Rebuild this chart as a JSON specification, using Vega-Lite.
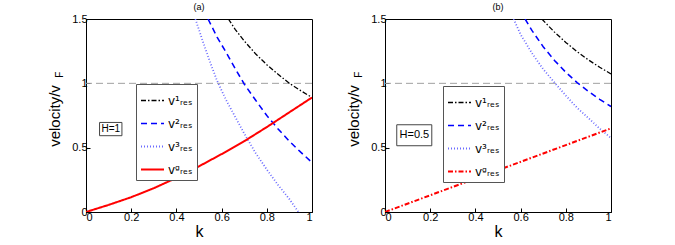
{
  "$schema": "https://vega.github.io/schema/vega-lite/v6.json",
  "background": "white",
  "padding": {"left": 46, "top": 2, "right": 5, "bottom": 2},
  "datasets": {
    "curves": [
      {"panel": "a", "s": "v¹ᵣₑₛ", "k": 0.63, "v": 1.5},
      {"panel": "a", "s": "v¹ᵣₑₛ", "k": 0.66, "v": 1.42},
      {"panel": "a", "s": "v¹ᵣₑₛ", "k": 0.7, "v": 1.33},
      {"panel": "a", "s": "v¹ᵣₑₛ", "k": 0.75, "v": 1.23},
      {"panel": "a", "s": "v¹ᵣₑₛ", "k": 0.8, "v": 1.145},
      {"panel": "a", "s": "v¹ᵣₑₛ", "k": 0.85, "v": 1.07},
      {"panel": "a", "s": "v¹ᵣₑₛ", "k": 0.9, "v": 1.0},
      {"panel": "a", "s": "v¹ᵣₑₛ", "k": 0.95, "v": 0.943},
      {"panel": "a", "s": "v¹ᵣₑₛ", "k": 1.0, "v": 0.89},
      {"panel": "a", "s": "v²ᵣₑₛ", "k": 0.54, "v": 1.5},
      {"panel": "a", "s": "v²ᵣₑₛ", "k": 0.58, "v": 1.36},
      {"panel": "a", "s": "v²ᵣₑₛ", "k": 0.62, "v": 1.24},
      {"panel": "a", "s": "v²ᵣₑₛ", "k": 0.66, "v": 1.115},
      {"panel": "a", "s": "v²ᵣₑₛ", "k": 0.7, "v": 0.995},
      {"panel": "a", "s": "v²ᵣₑₛ", "k": 0.75, "v": 0.87},
      {"panel": "a", "s": "v²ᵣₑₛ", "k": 0.8, "v": 0.75},
      {"panel": "a", "s": "v²ᵣₑₛ", "k": 0.85, "v": 0.645},
      {"panel": "a", "s": "v²ᵣₑₛ", "k": 0.9, "v": 0.55},
      {"panel": "a", "s": "v²ᵣₑₛ", "k": 0.95, "v": 0.465},
      {"panel": "a", "s": "v²ᵣₑₛ", "k": 1.0, "v": 0.385},
      {"panel": "a", "s": "v³ᵣₑₛ", "k": 0.484, "v": 1.5},
      {"panel": "a", "s": "v³ᵣₑₛ", "k": 0.52, "v": 1.31},
      {"panel": "a", "s": "v³ᵣₑₛ", "k": 0.55, "v": 1.16},
      {"panel": "a", "s": "v³ᵣₑₛ", "k": 0.58, "v": 1.02},
      {"panel": "a", "s": "v³ᵣₑₛ", "k": 0.62, "v": 0.87},
      {"panel": "a", "s": "v³ᵣₑₛ", "k": 0.66, "v": 0.74},
      {"panel": "a", "s": "v³ᵣₑₛ", "k": 0.7, "v": 0.61},
      {"panel": "a", "s": "v³ᵣₑₛ", "k": 0.75, "v": 0.46},
      {"panel": "a", "s": "v³ᵣₑₛ", "k": 0.8, "v": 0.33},
      {"panel": "a", "s": "v³ᵣₑₛ", "k": 0.85, "v": 0.21},
      {"panel": "a", "s": "v³ᵣₑₛ", "k": 0.9, "v": 0.1},
      {"panel": "a", "s": "v³ᵣₑₛ", "k": 0.94, "v": 0.0},
      {"panel": "a", "s": "vᵍᵣₑₛ", "k": 0.0, "v": 0.0},
      {"panel": "a", "s": "vᵍᵣₑₛ", "k": 0.1, "v": 0.055},
      {"panel": "a", "s": "vᵍᵣₑₛ", "k": 0.2, "v": 0.115},
      {"panel": "a", "s": "vᵍᵣₑₛ", "k": 0.3, "v": 0.185},
      {"panel": "a", "s": "vᵍᵣₑₛ", "k": 0.4, "v": 0.265},
      {"panel": "a", "s": "vᵍᵣₑₛ", "k": 0.5, "v": 0.355},
      {"panel": "a", "s": "vᵍᵣₑₛ", "k": 0.6, "v": 0.45},
      {"panel": "a", "s": "vᵍᵣₑₛ", "k": 0.7, "v": 0.55},
      {"panel": "a", "s": "vᵍᵣₑₛ", "k": 0.8, "v": 0.66},
      {"panel": "a", "s": "vᵍᵣₑₛ", "k": 0.9, "v": 0.775},
      {"panel": "a", "s": "vᵍᵣₑₛ", "k": 1.0, "v": 0.89},
      {"panel": "b", "s": "v¹ᵣₑₛ", "k": 0.694, "v": 1.5},
      {"panel": "b", "s": "v¹ᵣₑₛ", "k": 0.72, "v": 1.452},
      {"panel": "b", "s": "v¹ᵣₑₛ", "k": 0.75, "v": 1.398},
      {"panel": "b", "s": "v¹ᵣₑₛ", "k": 0.8, "v": 1.318},
      {"panel": "b", "s": "v¹ᵣₑₛ", "k": 0.85, "v": 1.246},
      {"panel": "b", "s": "v¹ᵣₑₛ", "k": 0.9, "v": 1.182},
      {"panel": "b", "s": "v¹ᵣₑₛ", "k": 0.95, "v": 1.125},
      {"panel": "b", "s": "v¹ᵣₑₛ", "k": 1.0, "v": 1.073},
      {"panel": "b", "s": "v²ᵣₑₛ", "k": 0.62, "v": 1.5},
      {"panel": "b", "s": "v²ᵣₑₛ", "k": 0.65, "v": 1.411},
      {"panel": "b", "s": "v²ᵣₑₛ", "k": 0.7, "v": 1.285},
      {"panel": "b", "s": "v²ᵣₑₛ", "k": 0.75, "v": 1.178},
      {"panel": "b", "s": "v²ᵣₑₛ", "k": 0.8, "v": 1.086},
      {"panel": "b", "s": "v²ᵣₑₛ", "k": 0.85, "v": 1.006},
      {"panel": "b", "s": "v²ᵣₑₛ", "k": 0.9, "v": 0.937},
      {"panel": "b", "s": "v²ᵣₑₛ", "k": 0.95, "v": 0.875},
      {"panel": "b", "s": "v²ᵣₑₛ", "k": 1.0, "v": 0.82},
      {"panel": "b", "s": "v³ᵣₑₛ", "k": 0.569, "v": 1.5},
      {"panel": "b", "s": "v³ᵣₑₛ", "k": 0.6, "v": 1.38},
      {"panel": "b", "s": "v³ᵣₑₛ", "k": 0.65, "v": 1.235},
      {"panel": "b", "s": "v³ᵣₑₛ", "k": 0.7, "v": 1.11},
      {"panel": "b", "s": "v³ᵣₑₛ", "k": 0.753, "v": 1.0},
      {"panel": "b", "s": "v³ᵣₑₛ", "k": 0.8, "v": 0.905},
      {"panel": "b", "s": "v³ᵣₑₛ", "k": 0.85, "v": 0.81},
      {"panel": "b", "s": "v³ᵣₑₛ", "k": 0.9, "v": 0.73},
      {"panel": "b", "s": "v³ᵣₑₛ", "k": 0.95, "v": 0.648},
      {"panel": "b", "s": "v³ᵣₑₛ", "k": 1.0, "v": 0.575},
      {"panel": "b", "s": "vᵍᵣₑₛ", "k": 0.0, "v": 0.0},
      {"panel": "b", "s": "vᵍᵣₑₛ", "k": 0.2, "v": 0.13},
      {"panel": "b", "s": "vᵍᵣₑₛ", "k": 0.4, "v": 0.26},
      {"panel": "b", "s": "vᵍᵣₑₛ", "k": 0.6, "v": 0.39},
      {"panel": "b", "s": "vᵍᵣₑₛ", "k": 0.8, "v": 0.52},
      {"panel": "b", "s": "vᵍᵣₑₛ", "k": 1.0, "v": 0.65}
    ]
  },
  "hconcat": [
    {
      "width": 226,
      "height": 193,
      "title": {"text": "(a)", "fontSize": 9, "fontWeight": "normal", "offset": 1},
      "layer": [
        {
          "data": {"values": [{}]},
          "mark": {"type": "rule", "color": "#a0a0a0", "strokeDash": [7, 4], "strokeWidth": 1},
          "encoding": {"y": {"datum": 1}}
        },
        {
          "data": {"name": "curves"},
          "transform": [{"filter": "datum.panel === 'a'"}],
          "mark": {"type": "line", "clip": true},
          "encoding": {
            "x": {"field": "k", "type": "quantitative", "scale": {"domain": [0, 1], "nice": false},
                  "axis": {"title": "k", "values": [0, 0.2, 0.4, 0.6, 0.8, 1], "format": ".1~f", "titleFontSize": 16, "titlePadding": 1, "labelPadding": 3, "tickSize": -4}},
            "y": {"field": "v", "type": "quantitative", "scale": {"domain": [0, 1.5], "nice": false},
                  "axis": {"title": "velocity/v", "values": [0, 0.5, 1, 1.5], "format": ".1~f", "titleFontSize": 15, "titleX": -32, "titleBaseline": "middle", "labelPadding": 3, "tickSize": -4}},
            "color": {"field": "s", "type": "nominal", "sort": null,
                      "scale": {"domain": ["v¹ᵣₑₛ", "v²ᵣₑₛ", "v³ᵣₑₛ", "vᵍᵣₑₛ"], "range": ["#000000", "#0000ff", "#6b6bff", "#ff0000"]},
                      "legend": {"title": null, "orient": "none", "legendX": 50, "legendY": 65}},
            "strokeDash": {"field": "s", "type": "nominal", "sort": null,
                      "scale": {"domain": ["v¹ᵣₑₛ", "v²ᵣₑₛ", "v³ᵣₑₛ", "vᵍᵣₑₛ"], "range": [[5, 2, 1.5, 2], [6, 4], [1, 2], [1, 0]]},
                      "legend": {"title": null, "orient": "none", "legendX": 50, "legendY": 65}},
            "strokeWidth": {"field": "s", "type": "nominal", "sort": null,
                      "scale": {"domain": ["v¹ᵣₑₛ", "v²ᵣₑₛ", "v³ᵣₑₛ", "vᵍᵣₑₛ"], "range": [1.3, 2, 1, 1.5]},
                      "legend": {"title": null, "orient": "none", "legendX": 50, "legendY": 65}}
          }
        },
        {
          "data": {"values": [{}]},
          "mark": {"type": "rect", "fill": "white", "stroke": "#444444", "strokeWidth": 1},
          "encoding": {"x": {"datum": 0.06}, "x2": {"datum": 0.159}, "y": {"datum": 0.593}, "y2": {"datum": 0.696}}
        },
        {
          "data": {"values": [{}]},
          "mark": {"type": "text", "fontSize": 10, "color": "black"},
          "encoding": {"x": {"datum": 0.11}, "y": {"datum": 0.644}, "text": {"value": "H=1"}}
        },
        {
          "data": {"values": [{}]},
          "mark": {"type": "text", "fontSize": 10, "color": "black", "angle": 270},
          "encoding": {"x": {"datum": -0.115}, "y": {"datum": 1.067}, "text": {"value": "F"}}
        }
      ]
    },
    {
      "width": 226,
      "height": 193,
      "title": {"text": "(b)", "fontSize": 9, "fontWeight": "normal", "offset": 1},
      "layer": [
        {
          "data": {"values": [{}]},
          "mark": {"type": "rule", "color": "#a0a0a0", "strokeDash": [7, 4], "strokeWidth": 1},
          "encoding": {"y": {"datum": 1}}
        },
        {
          "data": {"name": "curves"},
          "transform": [{"filter": "datum.panel === 'b'"}],
          "mark": {"type": "line", "clip": true},
          "encoding": {
            "x": {"field": "k", "type": "quantitative", "scale": {"domain": [0, 1], "nice": false},
                  "axis": {"title": "k", "values": [0, 0.2, 0.4, 0.6, 0.8, 1], "format": ".1~f", "titleFontSize": 16, "titlePadding": 1, "labelPadding": 3, "tickSize": -4}},
            "y": {"field": "v", "type": "quantitative", "scale": {"domain": [0, 1.5], "nice": false},
                  "axis": {"title": "velocity/v", "values": [0, 0.5, 1, 1.5], "format": ".1~f", "titleFontSize": 15, "titleX": -32, "titleBaseline": "middle", "labelPadding": 3, "tickSize": -4}},
            "color": {"field": "s", "type": "nominal", "sort": null,
                      "scale": {"domain": ["v¹ᵣₑₛ", "v²ᵣₑₛ", "v³ᵣₑₛ", "vᵍᵣₑₛ"], "range": ["#000000", "#0000ff", "#6b6bff", "#ff0000"]},
                      "legend": {"title": null, "orient": "none", "legendX": 58, "legendY": 67}},
            "strokeDash": {"field": "s", "type": "nominal", "sort": null,
                      "scale": {"domain": ["v¹ᵣₑₛ", "v²ᵣₑₛ", "v³ᵣₑₛ", "vᵍᵣₑₛ"], "range": [[5, 2, 1.5, 2], [6, 4], [1, 2], [5, 2, 1.5, 2]]},
                      "legend": {"title": null, "orient": "none", "legendX": 58, "legendY": 67}},
            "strokeWidth": {"field": "s", "type": "nominal", "sort": null,
                      "scale": {"domain": ["v¹ᵣₑₛ", "v²ᵣₑₛ", "v³ᵣₑₛ", "vᵍᵣₑₛ"], "range": [1.3, 2, 1, 1.5]},
                      "legend": {"title": null, "orient": "none", "legendX": 58, "legendY": 67}}
          }
        },
        {
          "data": {"values": [{}]},
          "mark": {"type": "rect", "fill": "white", "stroke": "#444444", "strokeWidth": 1},
          "encoding": {"x": {"datum": 0.052}, "x2": {"datum": 0.207}, "y": {"datum": 0.515}, "y2": {"datum": 0.678}}
        },
        {
          "data": {"values": [{}]},
          "mark": {"type": "text", "fontSize": 11, "color": "black"},
          "encoding": {"x": {"datum": 0.13}, "y": {"datum": 0.597}, "text": {"value": "H=0.5"}}
        },
        {
          "data": {"values": [{}]},
          "mark": {"type": "text", "fontSize": 10, "color": "black", "angle": 270},
          "encoding": {"x": {"datum": -0.115}, "y": {"datum": 1.067}, "text": {"value": "F"}}
        }
      ]
    }
  ],
  "spacing": 32,
  "resolve": {
    "scale": {"color": "independent", "strokeDash": "independent", "strokeWidth": "independent"},
    "legend": {"color": "independent", "strokeDash": "independent", "strokeWidth": "independent"}
  },
  "config": {
    "font": "Liberation Sans",
    "view": {"stroke": "black", "strokeWidth": 1},
    "axis": {"grid": false, "domainColor": "black", "tickColor": "black", "labelColor": "black", "titleColor": "black", "labelFontSize": 11, "titleFontWeight": "normal", "labelFont": "Liberation Sans", "titleFont": "Liberation Sans"},
    "legend": {"strokeColor": "#555555", "fillColor": "white", "padding": 4, "symbolType": "stroke", "symbolSize": 529, "labelFontSize": 12, "labelColor": "black", "rowPadding": 4, "labelFont": "DejaVu Sans", "symbolStrokeWidth": 1.5, "labelOffset": 3}
  }
}
